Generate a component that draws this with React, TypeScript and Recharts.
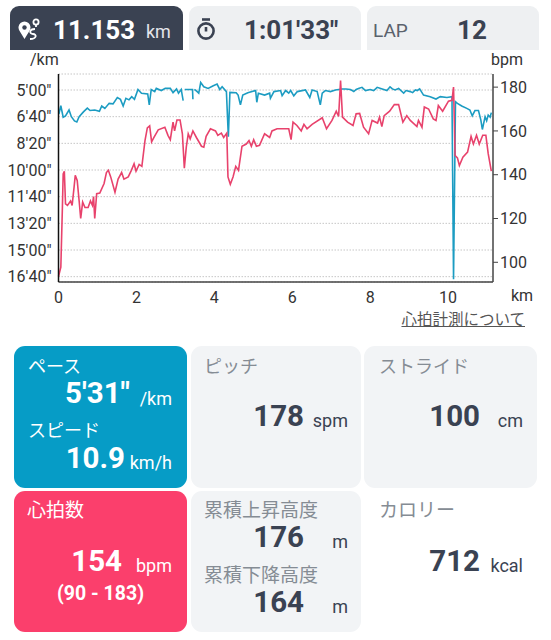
import React from "react";
import { ComposedChart, Line, XAxis, YAxis, CartesianGrid } from "recharts";

// pace series, km and seconds per km (null = gap in the line)
const paceKm = [
  0.01, 0.06, 0.12, 0.18, 0.27, 0.33, 0.41, 0.47, 0.53, 0.64, 0.74, 0.81, 0.93, 1.05, 1.11, 1.19, 1.3, 1.4, 1.51, 1.59,
  1.66, 1.73, 1.81, 1.88, 1.95, 2.04, 2.13, 2.29, 2.33, 2.38, 2.47, 2.51, 2.64, 2.74, 2.87, 2.94, 3.03, 3.08, 3.15, 3.2,
  3.22, 3.24, 3.35, 3.44, 3.45, 3.47, 3.49, 3.56, 3.6, 3.65, 3.73, 3.84, 3.96, 4.07, 4.14, 4.2, 4.31, 4.36, 4.4, 4.56,
  4.61, 4.67, 4.73, 4.86, 5.06, 5.09, 5.13, 5.29, 5.42, 5.44, 5.53, 5.7, 5.74, 5.83, 5.91, 5.96, 6.04, 6.13, 6.34, 6.45,
  6.51, 6.64, 6.72, 6.77, 6.85, 6.98, 7.11, 7.28, 7.38, 7.49, 7.54, 7.58, 7.64, 7.7, 7.79, 7.88, 8.0, 8.09, 8.18, 8.27, 8.35,
  8.43, 8.51, 8.57, 8.64, 8.73, 8.86, 8.92, 9.03, 9.09, 9.16, 9.21, 9.27, 9.37, 9.54, 9.69, 9.8, 9.97, 10.1, 10.14, 10.19,
  10.24, 10.35, 10.48, 10.56, 10.62, 10.69, 10.78, 10.84, 10.88, 10.95, 10.99, 11.03, 11.08, 11.11,
];
const paceSec = [
  390, 359, 402, 397, 375, 400, 416, 420, 400, 382, 368, 377, 375, 380, 360, 369, 350, 352, 328, 335,
  360, 331, 337, 325, 335, 298, 312, 315, 356, 298, 306, 294, 302, 294, 294, 310, 296, 312, 298, 340,
  null, 298, 298, 298, 335, null, 298, 306, 312, 272, 288, 294, 285, 278, 298, 288, 306, 475, 309, 310,
  319, 356, 319, 310, 302, 346, 312, 319, 312, 331, 306, 302, 321, 302, 312, 302, 322, 306, 300, 328,
  300, 306, 356, 312, 302, 306, 300, 296, 296, 298, 302, 306, 298, 294, 290, 302, 298, 302, 290, 294, 298,
  302, 288, 296, 300, 294, 312, 302, 306, 310, 300, 302, 296, 319, 325, 334, 325, 328, 325, 1010, 344,
  350, 360, 369, 375, 397, 377, 377, 412, 448, 400, 415, 394, 402, 385,
];

// heart rate series, km and bpm
const hrKm = [
  0, 0.06, 0.1, 0.12, 0.15, 0.18, 0.23, 0.31, 0.35, 0.4, 0.43, 0.48, 0.53, 0.57, 0.62, 0.68, 0.76, 0.82, 0.87, 0.9, 0.93,
  0.98, 1.06, 1.17, 1.23, 1.28, 1.34, 1.45, 1.53, 1.62, 1.68, 1.79, 1.87, 1.94, 1.99, 2.07, 2.14, 2.22, 2.28, 2.34, 2.39,
  2.45, 2.56, 2.73, 2.81, 2.87, 2.94, 2.98, 3.04, 3.12, 3.18, 3.23, 3.28, 3.33, 3.38, 3.45, 3.54, 3.67, 3.73, 3.79, 3.9,
  4.03, 4.09, 4.18, 4.24, 4.32, 4.35, 4.41, 4.48, 4.55, 4.62, 4.71, 4.82, 4.89, 4.95, 5.01, 5.08, 5.16, 5.29, 5.42, 5.48,
  5.61, 5.91, 5.97, 6.02, 6.12, 6.23, 6.3, 6.38, 6.51, 6.77, 6.88, 7.02, 7.13, 7.19, 7.24, 7.29, 7.42, 7.56, 7.64, 7.73,
  7.83, 7.96, 8.05, 8.19, 8.24, 8.3, 8.36, 8.5, 8.62, 8.73, 8.84, 8.94, 9.03, 9.2, 9.24, 9.33, 9.39, 9.5, 9.62, 9.69,
  9.75, 9.86, 10.01, 10.1, 10.14, 10.18, 10.24, 10.29, 10.38, 10.5, 10.59, 10.65, 10.73, 10.8, 10.89, 10.97, 11.03, 11.11,
];
const hrBpm = [
  93.5, 97.8, 125, 140.4, 141.6, 126.7, 126, 128, 126, 134.3, 139.7, 137.4, 128, 120, 127.5, 125, 125, 128, 126, 130, 120,
  131.3, 131.6, 136, 141, 142, 139, 132, 138, 141, 138, 139, 142, 145, 141.6, 144.7, 143.8, 155.6, 161.4, 162.3, 155,
  157, 160.5, 161.7, 158, 156, 164, 160, 165, 165, 158.7, 143, 152.6, 158.7, 156.4, 160, 157, 153, 152.6, 157.5, 161,
  160, 158, 159, 157, 159, 139, 135.6, 139, 143.8, 142, 153, 154, 155.6, 153, 156, 153, 153.4, 158.7, 157, 160,
  161, 161, 156, 164, 162.5, 160, 163, 161, 163, 166, 161, 164.8, 169, 166.6, 183, 166.3, 164, 162.5, 167.8, 168,
  161.7, 158.7, 164.8, 163.6, 166.3, 162, 167, 169, 172, 172, 164, 167, 164.8, 162, 164.8, 161.7, 170.9, 170, 165.5, 164.8,
  171.6, 169, 173.6, 174, 180, 148.8, 147.7, 144.2, 148, 150.3, 157.5, 154, 158, 154, 158, 158, 149.6, 141.6,
];

const kmTicks = [0, 2, 4, 6, 8, 10];
const paceTicks = [300, 400, 500, 600, 700, 800, 900, 1000];
const bpmTicks = [100, 120, 140, 160, 180];

const paceRows = paceKm.map((km, i) => ({ km, pace: paceSec[i] }));
const hrRows = hrKm.map((km, i) => ({ km, hr: hrBpm[i] }));

const DARK = "#3a4252";
const GRAY_TEXT = "#858c94";
const FONT = "Roboto, 'Noto Sans CJK JP', sans-serif";

function paceLabel(sec: number) {
  const m = Math.floor(sec / 60);
  const s = sec % 60;
  return `${m}'${String(s).padStart(2, "0")}"`;
}

// text placed by its baseline, left edge or right edge
function Txt({ x, right, y, size, weight = 400, color = DARK, children, underline }: any) {
  const style: React.CSSProperties = {
    position: "absolute",
    top: y - size * 0.842,
    fontSize: size,
    lineHeight: `${size}px`,
    fontWeight: weight,
    color,
    whiteSpace: "nowrap",
    textDecoration: underline ? "underline" : "none",
  };
  if (right !== undefined) style.right = 551 - right;
  else style.left = x;
  return <div style={style}>{children}</div>;
}

function Box({ x, y, w, h, bg, radius }: any) {
  return <div style={{ position: "absolute", left: x, top: y, width: w, height: h, background: bg, borderRadius: radius }} />;
}

function RouteIcon() {
  return (
    <svg style={{ position: "absolute", left: 17, top: 17 }} width="24" height="24" viewBox="0 0 24 24" fill="none" stroke="#fff" strokeWidth="2.4">
      <path d="M7.5 22 L2.6 14 A6 6 0 1 1 12.4 14 Z" fill="#fff" stroke="none" />
      <circle cx="7.5" cy="10.5" r="2.2" fill={DARK} stroke="none" />
      <circle cx="19" cy="5" r="2.6" strokeWidth="1.8" />
      <path d="M19 8 L19 10 M18 12 C12 12 12 17 16 17 C20 17 20 22 13 22" strokeWidth="1.8" />
    </svg>
  );
}

function WatchIcon() {
  return (
    <svg style={{ position: "absolute", left: 196, top: 18 }} width="20" height="23" viewBox="0 0 20 23" fill="none" stroke={DARK} strokeWidth="2.6">
      <path d="M6 1.5 H14" />
      <circle cx="10" cy="13" r="7.6" />
      <path d="M10 9 V13.5" />
    </svg>
  );
}

export default function App() {
  return (
    <div style={{ position: "absolute", left: 0, top: 0, width: 551, height: 640, background: "#fff", fontFamily: FONT, overflow: "hidden" }}>
      {/* top tabs */}
      <Box x={10} y={6} w={173} h={44} bg={DARK} radius="9px 9px 0 0" />
      <Box x={189} y={6} w={172} h={44} bg="#eef0f2" radius="9px 9px 0 0" />
      <Box x={367} y={6} w={172} h={44} bg="#eef0f2" radius="9px 9px 0 0" />
      <RouteIcon />
      <Txt x={53} y={39} size={26} weight={700} color="#fff">11.153</Txt>
      <Txt x={146} y={38} size={18} color="#e4e6ea">km</Txt>
      <WatchIcon />
      <Txt x={244} y={39} size={26} weight={700}>1:01'33"</Txt>
      <Txt x={373} y={37} size={19} color="#5a626c">LAP</Txt>
      <Txt x={457} y={39} size={26} weight={700}>12</Txt>

      {/* chart */}
      <div style={{ position: "absolute", left: 0, top: 0 }}>
        <ComposedChart width={551} height={310} margin={{ top: 74, right: 0, bottom: 0, left: 0 }}>
          <CartesianGrid yAxisId="pace" horizontal vertical={false} stroke="#c6c6c6" strokeDasharray="1.5 1.5" />
          <XAxis
            xAxisId="km"
            type="number"
            dataKey="km"
            domain={[0, 11.153]}
            ticks={kmTicks}
            height={28}
            tickLine={false}
            tickMargin={4}
            axisLine={{ stroke: "#444", strokeWidth: 1.5 }}
            tick={{ fontSize: 16, fill: "#333" }}
            allowDuplicatedCategory={false}
          />
          <YAxis
            yAxisId="pace"
            orientation="left"
            type="number"
            domain={[240, 1020]}
            reversed
            ticks={paceTicks}
            width={58.5}
            interval={0}
            tickLine={false}
            tickFormatter={paceLabel}
            tickMargin={1}
            axisLine={{ stroke: "#111", strokeWidth: 1.5 }}
            tick={{ fontSize: 16, fill: "#333" }}
          />
          <YAxis
            yAxisId="hr"
            orientation="right"
            type="number"
            domain={[91, 186]}
            ticks={bpmTicks}
            width={58}
            interval={0}
            tickSize={5}
            tickMargin={2}
            axisLine={{ stroke: "#444", strokeWidth: 1.5 }}
            tickLine={{ stroke: "#444" }}
            tick={{ fontSize: 16, fill: "#333" }}
          />
          <Line
            xAxisId="km"
            yAxisId="pace"
            data={paceRows}
            dataKey="pace"
            type="linear"
            stroke="#1c9cc2"
            strokeWidth={1.6}
            dot={false}
            connectNulls={false}
            isAnimationActive={false}
          />
          <Line
            xAxisId="km"
            yAxisId="hr"
            data={hrRows}
            dataKey="hr"
            type="linear"
            stroke="#e8426c"
            strokeWidth={1.6}
            dot={false}
            isAnimationActive={false}
          />
        </ComposedChart>
      </div>
      <Txt x={30} y={65} size={16} color="#333">/km</Txt>
      <Txt x={491} y={65} size={16} color="#333">bpm</Txt>
      <Txt x={511} y={301} size={16} color="#333">km</Txt>
      <Txt right={525} y={326} size={15.5} color="#555" underline>心拍計測について</Txt>

      {/* stat cards */}
      <Box x={14} y={346} w={173} h={142} bg="#069cc6" radius={11} />
      <Box x={191} y={346} w={170} h={142} bg="#f2f4f6" radius={11} />
      <Box x={364} y={346} w={173} h={142} bg="#f2f4f6" radius={11} />
      <Box x={14} y={491} w={173} h={141} bg="#fb3f6c" radius={11} />
      <Box x={191} y={491} w={170} h={141} bg="#f2f4f6" radius={11} />

      <Txt x={28} y={373} size={18} color="#fff">ペース</Txt>
      <Txt right={130} y={404} size={29.5} weight={700} color="#fff">5'31"</Txt>
      <Txt right={172} y={405} size={18} color="#fff">/km</Txt>
      <Txt x={28} y={437} size={18} color="#fff">スピード</Txt>
      <Txt right={125} y={469} size={29.5} weight={700} color="#fff">10.9</Txt>
      <Txt right={172} y={469} size={18} color="#fff">km/h</Txt>

      <Txt x={204} y={373} size={18} color={GRAY_TEXT}>ピッチ</Txt>
      <Txt right={304} y={427} size={29.5} weight={700}>178</Txt>
      <Txt right={348} y={427} size={18}>spm</Txt>

      <Txt x={379} y={373} size={18} color={GRAY_TEXT}>ストライド</Txt>
      <Txt right={480} y={427} size={29.5} weight={700}>100</Txt>
      <Txt right={523} y={427} size={18}>cm</Txt>

      <Txt x={27} y={517} size={19} color="#fff">心拍数</Txt>
      <Txt right={122} y={572} size={29.5} weight={700} color="#fff">154</Txt>
      <Txt right={172} y={572} size={18} color="#fff">bpm</Txt>
      <Txt x={57} y={600} size={19.5} weight={700} color="#fff">(90 - 183)</Txt>

      <Txt x={204} y={517} size={19} color={GRAY_TEXT}>累積上昇高度</Txt>
      <Txt right={304} y={548} size={29.5} weight={700}>176</Txt>
      <Txt right={348} y={548} size={18}>m</Txt>
      <Txt x={204} y={582} size={19} color={GRAY_TEXT}>累積下降高度</Txt>
      <Txt right={304} y={613} size={29.5} weight={700}>164</Txt>
      <Txt right={348} y={613} size={18}>m</Txt>

      <Txt x={379} y={517} size={19} color={GRAY_TEXT}>カロリー</Txt>
      <Txt right={480} y={572} size={29.5} weight={700}>712</Txt>
      <Txt right={523} y={572} size={18}>kcal</Txt>
    </div>
  );
}
